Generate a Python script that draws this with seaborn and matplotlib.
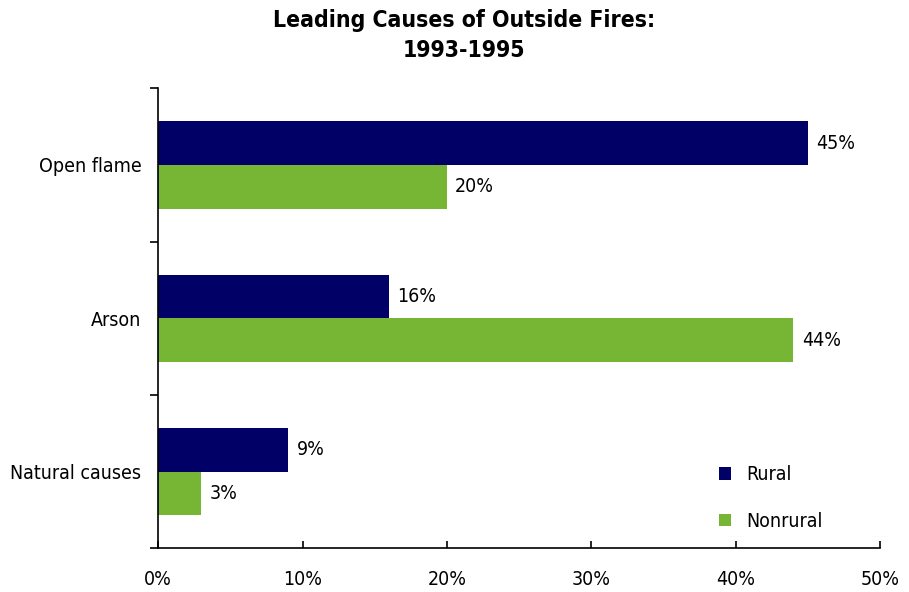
import pandas as pd
import numpy as np
import seaborn as sns
import matplotlib.pyplot as plt
from matplotlib.ticker import FixedLocator, PercentFormatter

causes = ['Open flame', 'Arson', 'Natural causes']
rural = [45, 16, 9]
nonrural = [20, 44, 3]
groups = ['Rural', 'Nonrural']
colors = ['#000066', '#77b634']

df = pd.DataFrame({
    'Cause': causes * 2,
    'Share': rural + nonrural,
    'Area': ['Rural'] * 3 + ['Nonrural'] * 3,
})

sns.set_style('white')
plt.rcParams['font.family'] = ['DejaVu Sans']
plt.rcParams['font.stretch'] = 'condensed'
plt.rcParams['text.color'] = 'black'
plt.rcParams['xtick.color'] = 'black'
plt.rcParams['ytick.color'] = 'black'

fig = plt.figure(figsize=(9.09, 5.92), dpi=100)
ax = fig.add_axes([0.174, 0.074, 0.794, 0.777])

sns.barplot(data=df, y='Cause', x='Share', hue='Area', order=causes,
            hue_order=groups, palette=colors, orient='h', width=0.57,
            saturation=1, linewidth=0, ax=ax)

for cont in ax.containers:
    ax.bar_label(cont, labels=[f'{v:.0f}%' for v in cont.datavalues],
                 padding=6, fontsize=14)

ax.set_xlim(0, 50)
ax.set_ylim(2.5, -0.5)
ax.xaxis.set_major_locator(FixedLocator(np.arange(0, 51, 10)))
ax.xaxis.set_major_formatter(PercentFormatter(decimals=0))
ax.yaxis.set_minor_locator(FixedLocator([-0.5, 0.5, 1.5, 2.5]))
ax.tick_params(axis='both', which='both', left=True, bottom=True)
ax.tick_params(axis='y', which='major', length=0, labelsize=14, pad=12)
ax.tick_params(axis='y', which='minor', length=6, width=1.2, direction='out')
ax.tick_params(axis='x', which='major', length=5, width=1.2, direction='in',
               labelsize=14, pad=16)
ax.set_xlabel('')
ax.set_ylabel('')

sns.despine(ax=ax, top=True, right=True)
for s in ['left', 'bottom']:
    ax.spines[s].set_color('black')
    ax.spines[s].set_linewidth(1.2)

ax.legend(loc='lower right', bbox_to_anchor=(0.945, 0.0), frameon=False,
          fontsize=14, handlelength=0.6, handleheight=0.6, labelspacing=1.4,
          handletextpad=0.8)

fig.suptitle('Leading Causes of Outside Fires:\n1993-1995', x=0.51, y=0.985,
             fontsize=16.5, fontweight='bold', linespacing=1.4)

fig.savefig('out.png', dpi=100)
